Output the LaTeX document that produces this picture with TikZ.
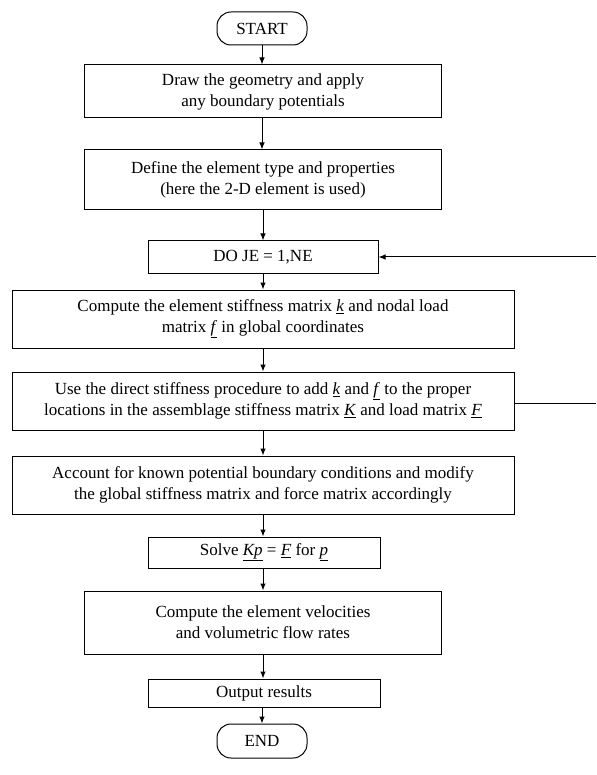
\documentclass[tikz,border=0pt]{standalone}
\usepackage{fontspec}
\setmainfont{Liberation Serif}
\usetikzlibrary{arrows.meta}
\newcommand{\mvec}[1]{\underline{\textit{#1}}}
\begin{document}
\begin{tikzpicture}[x=1pt,y=-1pt,
  font=\fontsize{17}{21}\selectfont,
  stepbox/.style={draw=black, line width=1pt, inner sep=0pt, align=center},
  termbox/.style={draw=black, line width=1pt, inner sep=0pt, rounded corners=14pt, minimum width=90pt, minimum height=33pt},
  flow/.style={draw=black, line width=1pt, -{Latex[length=7pt,width=5.5pt]}},
  plain/.style={draw=black, line width=1pt}]
\useasboundingbox (0,0) rectangle (596,775);
\fill[white] (0,0) rectangle (596,775);
\node[termbox] (start) at (262,28.5) {START};
\node[stepbox, minimum width=357pt, minimum height=53pt] (b1) at (263,91.5) {Draw the geometry and apply\\any boundary potentials};
\node[stepbox, minimum width=357pt, minimum height=60pt] (b2) at (263,180) {Define the element type and properties\\(here the 2-D element is used)};
\node[stepbox, minimum width=230pt, minimum height=32pt] (do) at (263,257) {DO JE = 1,NE};
\node[stepbox, minimum width=502pt, minimum height=58pt] (b3) at (263,319) {Compute the element stiffness matrix \mvec{k} and nodal load\\matrix \mvec{f} in global coordinates};
\node[stepbox, minimum width=502pt, minimum height=58pt] (b4) at (263,401) {Use the direct stiffness procedure to add \mvec{k} and \mvec{f} to the proper\\locations in the assemblage stiffness matrix \mvec{K} and load matrix \mvec{F}};
\node[stepbox, minimum width=502pt, minimum height=58pt] (b5) at (263,485) {Account for known potential boundary conditions and modify\\the global stiffness matrix and force matrix accordingly};
\node[stepbox, minimum width=232pt, minimum height=31pt] (b6) at (264,552.5) {Solve \mvec{Kp} = \mvec{F} for \mvec{p}};
\node[stepbox, minimum width=357pt, minimum height=63pt] (b7) at (263,622.5) {Compute the element velocities\\and volumetric flow rates};
\node[stepbox, minimum width=232pt, minimum height=28pt] (b8) at (264,693) {Output results};
\node[termbox, minimum height=34pt] (end) at (262,741) {END};
\coordinate (loopin) at (596,257);
\coordinate (loopout) at (596,403);
\draw[flow] (start) -- (b1.north -| start);
\draw[flow] (b1.south -| start) -- (b2.north -| start);
\draw[flow] (b2.south -| do) -- (do);
\draw[flow] (do) -- (b3.north -| do);
\draw[flow] (b3.south -| do) -- (b4.north -| do);
\draw[flow] (b4.south -| do) -- (b5.north -| do);
\draw[flow] (b5.south -| do) -- (b6.north -| do);
\draw[flow] (b6.south -| do) -- (b7.north -| do);
\draw[flow] (b7.south -| do) -- (b8.north -| do);
\draw[flow] (b8.south -| start) -- (end);
\draw[flow] (loopin) -- (do.east);
\draw[plain] (b4.east |- loopout) -- (loopout);
\end{tikzpicture}
\end{document}
